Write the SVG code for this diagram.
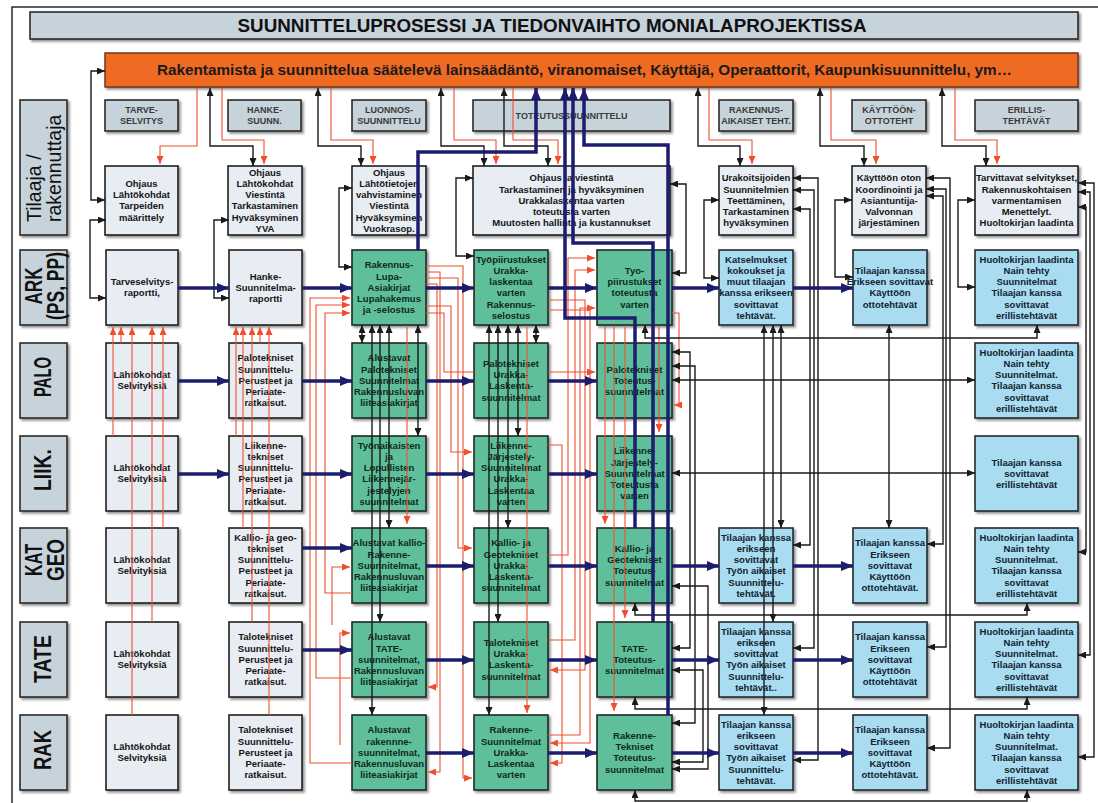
<svg xmlns="http://www.w3.org/2000/svg" width="1098" height="803" viewBox="0 0 1098 803">
<defs>
<filter id="sh" x="-10%" y="-10%" width="130%" height="130%">
<feDropShadow dx="2" dy="2" stdDeviation="1" flood-color="#3a3a3a" flood-opacity="0.55"/>
</filter>
<marker id="an" viewBox="0 0 12 10" refX="12" refY="5" markerWidth="12" markerHeight="10" markerUnits="userSpaceOnUse" orient="auto-start-reverse"><path d="M0,0 L12,5 L0,10 z" fill="#1d1d6f"/></marker>
<marker id="ab" viewBox="0 0 8 7" refX="8" refY="3.5" markerWidth="8" markerHeight="7" markerUnits="userSpaceOnUse" orient="auto-start-reverse"><path d="M0,0 L8,3.5 L0,7 z" fill="#1a1a1a"/></marker>
<marker id="ar" viewBox="0 0 8 7" refX="8" refY="3.5" markerWidth="8" markerHeight="7" markerUnits="userSpaceOnUse" orient="auto-start-reverse"><path d="M0,0 L8,3.5 L0,7 z" fill="#ef4f2e"/></marker>
</defs>
<style>
.frame{fill:none;stroke:#2a2a2a;stroke-width:1.5}
.hdr{fill:#c7d3db;stroke:#2b2b2b;stroke-width:1.6}
.lt{fill:#e7edf2;stroke:#1e1e1e;stroke-width:1.6}
.gr{fill:#5fbf9b;stroke:#1e2a24;stroke-width:1.6}
.bl{fill:#a9dbf1;stroke:#1e2a30;stroke-width:1.6}
.or{fill:#ef6a22;stroke:#7a3210;stroke-width:1.5}
text{font-family:"Liberation Sans",Arial,sans-serif}
.t{font-weight:bold;font-size:9.5px;fill:#151515;text-anchor:middle}
.tg{fill:#0f2a20}
.tb{fill:#10242e}
.ph{font-weight:bold;font-size:9px;fill:#3a3a3a;text-anchor:middle}
.rh{font-weight:bold;font-size:23px;fill:#111;text-anchor:middle}
.rn{font-weight:normal;font-size:19.5px;text-anchor:start}
.nv{fill:none;stroke:#1d1d6f;stroke-width:3.5;marker-end:url(#an)}
.bk{fill:none;stroke:#1a1a1a;stroke-width:1.4;marker-end:url(#ab)}
.b2{marker-start:url(#ab)}
.rd{fill:none;stroke:#ef4f2e;stroke-width:1.1;marker-end:url(#ar)}
.rn0{marker-end:none}
</style>

<rect class="frame" x="12" y="7" width="1090" height="800"/>

<!-- title and the regulating bar -->
<g id="title">
<rect class="hdr" x="30" y="12" width="1048" height="27" filter="url(#sh)"/>
<text x="552" y="32" font-size="19" font-weight="bold" fill="#111" text-anchor="middle" textLength="629" lengthAdjust="spacingAndGlyphs">SUUNNITTELUPROSESSI JA TIEDONVAIHTO MONIALAPROJEKTISSA</text>
</g>
<g id="regulation">
<rect class="or" x="105" y="53" width="973" height="34" filter="url(#sh)"/>
<text x="584.5" y="75" font-size="14" font-weight="bold" fill="#1a1a1a" text-anchor="middle" textLength="855" lengthAdjust="spacingAndGlyphs">Rakentamista ja suunnittelua säätelevä lainsäädäntö, viranomaiset, Käyttäjä, Operaattorit, Kaupunkisuunnittelu, ym…</text>
</g>

<!-- phase headers -->
<g id="ph-tarve"><rect class="hdr" x="105" y="100" width="73" height="31" filter="url(#sh)"/><text class="ph" x="141.5" y="113">TARVE-<tspan x="141.5" dy="11">SELVITYS</tspan></text></g>
<g id="ph-hanke"><rect class="hdr" x="228" y="100" width="73" height="31" filter="url(#sh)"/><text class="ph" x="264.5" y="113">HANKE-<tspan x="264.5" dy="11">SUUNN.</tspan></text></g>
<g id="ph-luonnos"><rect class="hdr" x="352" y="100" width="74" height="31" filter="url(#sh)"/><text class="ph" x="389" y="113">LUONNOS-<tspan x="389" dy="11">SUUNNITTELU</tspan></text></g>
<g id="ph-toteutus"><rect class="hdr" x="473" y="100" width="197" height="31" filter="url(#sh)"/><text class="ph" x="571.5" y="119">TOTEUTUSSUUNNITTELU</text></g>
<g id="ph-rakennus"><rect class="hdr" x="719" y="100" width="74" height="31" filter="url(#sh)"/><text class="ph" x="756" y="113">RAKENNUS-<tspan x="756" dy="11">AIKAISET TEHT.</tspan></text></g>
<g id="ph-kaytto"><rect class="hdr" x="852" y="100" width="74" height="31" filter="url(#sh)"/><text class="ph" x="889" y="113">KÄYTTÖÖN-<tspan x="889" dy="11">OTTOTEHT</tspan></text></g>
<g id="ph-erillis"><rect class="hdr" x="975" y="100" width="103" height="31" filter="url(#sh)"/><text class="ph" x="1026.5" y="113">ERILLIS-<tspan x="1026.5" dy="11">TEHTÄVÄT</tspan></text></g>

<!-- row headers -->
<g id="rh-tilaaja"><rect class="hdr" x="20" y="100" width="47" height="135" filter="url(#sh)"/><text class="rh rn" transform="translate(43.5,222) rotate(-90)"><tspan x="0" y="-3">Tilaaja /</tspan><tspan x="0" y="17">rakennuttaja</tspan></text></g>
<g id="rh-ark"><rect class="hdr" x="20" y="250" width="47" height="75" filter="url(#sh)"/><text class="rh" transform="translate(43.5,286) rotate(-90)"><tspan x="0" y="-1.5" textLength="37" lengthAdjust="spacingAndGlyphs">ARK</tspan><tspan x="0" y="20.5" textLength="68" lengthAdjust="spacingAndGlyphs">(PS, PP)</tspan></text></g>
<g id="rh-palo"><rect class="hdr" x="20" y="343" width="47" height="75" filter="url(#sh)"/><text class="rh" transform="translate(43.5,377) rotate(-90)" x="0" y="7" textLength="40" lengthAdjust="spacingAndGlyphs">PALO</text></g>
<g id="rh-liik"><rect class="hdr" x="20" y="436" width="47" height="75" filter="url(#sh)"/><text class="rh" transform="translate(43.5,470) rotate(-90)" x="0" y="7" textLength="42" lengthAdjust="spacingAndGlyphs">LIIK.</text></g>
<g id="rh-katgeo"><rect class="hdr" x="20" y="528" width="47" height="75" filter="url(#sh)"/><text class="rh" transform="translate(43.5,560) rotate(-90)"><tspan x="0" y="-1.5" textLength="32" lengthAdjust="spacingAndGlyphs">KAT</tspan><tspan x="0" y="20.5" textLength="42" lengthAdjust="spacingAndGlyphs">GEO</tspan></text></g>
<g id="rh-tate"><rect class="hdr" x="20" y="622" width="47" height="75" filter="url(#sh)"/><text class="rh" transform="translate(43.5,659) rotate(-90)" x="0" y="7" textLength="48" lengthAdjust="spacingAndGlyphs">TATE</text></g>
<g id="rh-rak"><rect class="hdr" x="20" y="715" width="47" height="75" filter="url(#sh)"/><text class="rh" transform="translate(43.5,750) rotate(-90)" x="0" y="7" textLength="40" lengthAdjust="spacingAndGlyphs">RAK</text></g>

<!-- client row -->
<g id="til-c1"><rect class="lt" x="105" y="166" width="73" height="69" filter="url(#sh)"/><text class="t" x="141.5" y="187">Ohjaus<tspan x="141.5" dy="11.2">Lähtökohdat</tspan><tspan x="141.5" dy="11.2">Tarpeiden</tspan><tspan x="141.5" dy="11.2">määrittely</tspan></text></g>
<g id="til-c2"><rect class="lt" x="228" y="166" width="74" height="69" filter="url(#sh)"/><text class="t" x="265" y="175.8">Ohjaus<tspan x="265" dy="11.2">Lähtökohdat</tspan><tspan x="265" dy="11.2">Viestintä</tspan><tspan x="265" dy="11.2">Tarkastaminen</tspan><tspan x="265" dy="11.2">Hyväksyminen</tspan><tspan x="265" dy="11.2">YVA</tspan></text></g>
<g id="til-c3"><rect class="lt" x="352" y="166" width="74" height="69" filter="url(#sh)"/><text class="t" x="389" y="175.8">Ohjaus<tspan x="389" dy="11.2">Lähtötietojen</tspan><tspan x="389" dy="11.2">vahvistaminen</tspan><tspan x="389" dy="11.2">Viestintä</tspan><tspan x="389" dy="11.2">Hyväksyminen</tspan><tspan x="389" dy="11.2">Vuokrasop.</tspan></text></g>
<g id="til-c4"><rect class="lt" x="473" y="166" width="197" height="69" filter="url(#sh)"/><text class="t" x="571.5" y="181.4">Ohjaus ja viestintä<tspan x="571.5" dy="11.2">Tarkastaminen ja hyväksyminen</tspan><tspan x="571.5" dy="11.2">Urakkalaskentaa varten</tspan><tspan x="571.5" dy="11.2">toteutusta varten</tspan><tspan x="571.5" dy="11.2">Muutosten hallinta ja kustannukset</tspan></text></g>
<g id="til-c6"><rect class="lt" x="719" y="166" width="74" height="69" filter="url(#sh)"/><text class="t" x="756" y="181.4">Urakoitsijoiden<tspan x="756" dy="11.2">Suunnitelmien</tspan><tspan x="756" dy="11.2">Teettäminen,</tspan><tspan x="756" dy="11.2">Tarkastaminen</tspan><tspan x="756" dy="11.2">hyväksyminen</tspan></text></g>
<g id="til-c7"><rect class="lt" x="852" y="166" width="74" height="69" filter="url(#sh)"/><text class="t" x="889" y="181.4">Käyttöön oton<tspan x="889" dy="11.2">Koordinointi ja</tspan><tspan x="889" dy="11.2">Asiantuntija-</tspan><tspan x="889" dy="11.2">Valvonnan</tspan><tspan x="889" dy="11.2">järjestäminen</tspan></text></g>
<g id="til-c8"><rect class="lt" x="975" y="166" width="103" height="69" filter="url(#sh)"/><text class="t" x="1026.5" y="181.4">Tarvittavat selvitykset,<tspan x="1026.5" dy="11.2">Rakennuskohtaisen</tspan><tspan x="1026.5" dy="11.2">varmentamisen</tspan><tspan x="1026.5" dy="11.2">Menettelyt.</tspan><tspan x="1026.5" dy="11.2">Huoltokirjan laadinta</tspan></text></g>

<!-- ARK row -->
<g id="ark-c1"><rect class="lt" x="106" y="250" width="72" height="75" filter="url(#sh)"/><text class="t" x="142" y="285.2">Tarveselvitys-<tspan x="142" dy="11.2">raportti,</tspan></text></g>
<g id="ark-c2"><rect class="lt" x="229" y="250" width="73" height="75" filter="url(#sh)"/><text class="t" x="265.5" y="279.6">Hanke-<tspan x="265.5" dy="11.2">Suunnitelma-</tspan><tspan x="265.5" dy="11.2">raportti</tspan></text></g>
<g id="ark-c3"><rect class="gr" x="352" y="250" width="74" height="75" filter="url(#sh)"/><text class="t tg" x="389" y="268.4">Rakennus-<tspan x="389" dy="11.2">Lupa-</tspan><tspan x="389" dy="11.2">Asiakirjat</tspan><tspan x="389" dy="11.2">Lupahakemus</tspan><tspan x="389" dy="11.2">ja -selostus</tspan></text></g>
<g id="ark-c4"><rect class="gr" x="474" y="250" width="74" height="75" filter="url(#sh)"/><text class="t tg" x="511" y="262.8">Työpiirustukset<tspan x="511" dy="11.2">Urakka-</tspan><tspan x="511" dy="11.2">laskentaa</tspan><tspan x="511" dy="11.2">varten</tspan><tspan x="511" dy="11.2">Rakennus-</tspan><tspan x="511" dy="11.2">selostus</tspan></text></g>
<g id="ark-c5"><rect class="gr" x="597" y="250" width="75" height="75" filter="url(#sh)"/><text class="t tg" x="634.5" y="274">Tyo-<tspan x="634.5" dy="11.2">piirustukset</tspan><tspan x="634.5" dy="11.2">toteutusta</tspan><tspan x="634.5" dy="11.2">varten</tspan></text></g>
<g id="ark-c6"><rect class="bl" x="719" y="250" width="74" height="75" filter="url(#sh)"/><text class="t tb" x="756" y="262.8">Katselmukset<tspan x="756" dy="11.2">kokoukset ja</tspan><tspan x="756" dy="11.2">muut tilaajan</tspan><tspan x="756" dy="11.2">kanssa erikseen</tspan><tspan x="756" dy="11.2">sovittavat</tspan><tspan x="756" dy="11.2">tehtävät.</tspan></text></g>
<g id="ark-c7"><rect class="bl" x="853" y="250" width="74" height="75" filter="url(#sh)"/><text class="t tb" x="890" y="274">Tilaajan kanssa<tspan x="890" dy="11.2">Erikseen sovittavat</tspan><tspan x="890" dy="11.2">Käyttöön</tspan><tspan x="890" dy="11.2">ottotehtävät</tspan></text></g>
<g id="ark-c8"><rect class="bl" x="975" y="250" width="103" height="75" filter="url(#sh)"/><text class="t tb" x="1026.5" y="262.8">Huoltokirjan laadinta<tspan x="1026.5" dy="11.2">Nain tehty</tspan><tspan x="1026.5" dy="11.2">Suunnitelmat</tspan><tspan x="1026.5" dy="11.2">Tilaajan kanssa</tspan><tspan x="1026.5" dy="11.2">sovittavat</tspan><tspan x="1026.5" dy="11.2">erillistehtävät</tspan></text></g>

<!-- PALO row -->
<g id="palo-c1"><rect class="lt" x="106" y="343" width="72" height="75" filter="url(#sh)"/><text class="t" x="142" y="378.2">Lähtökohdat<tspan x="142" dy="11.2">Selvityksiä</tspan></text></g>
<g id="palo-c2"><rect class="lt" x="229" y="343" width="73" height="75" filter="url(#sh)"/><text class="t" x="265.5" y="361.4">Palotekniset<tspan x="265.5" dy="11.2">Suunnittelu-</tspan><tspan x="265.5" dy="11.2">Perusteet ja</tspan><tspan x="265.5" dy="11.2">Periaate-</tspan><tspan x="265.5" dy="11.2">ratkaisut.</tspan></text></g>
<g id="palo-c3"><rect class="gr" x="352" y="343" width="74" height="75" filter="url(#sh)"/><text class="t tg" x="389" y="361.4">Alustavat<tspan x="389" dy="11.2">Palotekniset</tspan><tspan x="389" dy="11.2">Suunnitelmat</tspan><tspan x="389" dy="11.2">Rakennusluvan</tspan><tspan x="389" dy="11.2">liiteasiakirjat</tspan></text></g>
<g id="palo-c4"><rect class="gr" x="474" y="343" width="74" height="75" filter="url(#sh)"/><text class="t tg" x="511" y="367">Palotekniset<tspan x="511" dy="11.2">Urakka-</tspan><tspan x="511" dy="11.2">Laskenta-</tspan><tspan x="511" dy="11.2">suunnitelmat</tspan></text></g>
<g id="palo-c5"><rect class="gr" x="597" y="343" width="75" height="75" filter="url(#sh)"/><text class="t tg" x="634.5" y="372.6">Palotekniset<tspan x="634.5" dy="11.2">Toteutus-</tspan><tspan x="634.5" dy="11.2">suunnitelmat</tspan></text></g>
<g id="palo-c8"><rect class="bl" x="975" y="343" width="103" height="75" filter="url(#sh)"/><text class="t tb" x="1026.5" y="355.8">Huoltokirjan laadinta<tspan x="1026.5" dy="11.2">Nain tehty</tspan><tspan x="1026.5" dy="11.2">Suunnitelmat.</tspan><tspan x="1026.5" dy="11.2">Tilaajan kanssa</tspan><tspan x="1026.5" dy="11.2">sovittavat</tspan><tspan x="1026.5" dy="11.2">erillistehtävät</tspan></text></g>

<!-- LIIK row -->
<g id="liik-c1"><rect class="lt" x="106" y="436" width="72" height="75" filter="url(#sh)"/><text class="t" x="142" y="471.2">Lähtökohdat<tspan x="142" dy="11.2">Selvityksiä</tspan></text></g>
<g id="liik-c2"><rect class="lt" x="229" y="436" width="73" height="75" filter="url(#sh)"/><text class="t" x="265.5" y="448.8">Liikenne-<tspan x="265.5" dy="11.2">tekniset</tspan><tspan x="265.5" dy="11.2">Suunnittelu-</tspan><tspan x="265.5" dy="11.2">Perusteet ja</tspan><tspan x="265.5" dy="11.2">Periaate-</tspan><tspan x="265.5" dy="11.2">ratkaisut.</tspan></text></g>
<g id="liik-c3"><rect class="gr" x="352" y="436" width="74" height="75" filter="url(#sh)"/><text class="t tg" x="389" y="448.8">Työnaikaisten<tspan x="389" dy="11.2">ja</tspan><tspan x="389" dy="11.2">Lopullisten</tspan><tspan x="389" dy="11.2">Liikennejär-</tspan><tspan x="389" dy="11.2">jestelyjen</tspan><tspan x="389" dy="11.2">suunnitelmat</tspan></text></g>
<g id="liik-c4"><rect class="gr" x="474" y="436" width="74" height="75" filter="url(#sh)"/><text class="t tg" x="511" y="448.8">Liikenne-<tspan x="511" dy="11.2">Järjestely-</tspan><tspan x="511" dy="11.2">Suunnitelmat</tspan><tspan x="511" dy="11.2">Urakka-</tspan><tspan x="511" dy="11.2">Laskentaa</tspan><tspan x="511" dy="11.2">varten</tspan></text></g>
<g id="liik-c5"><rect class="gr" x="597" y="436" width="75" height="75" filter="url(#sh)"/><text class="t tg" x="634.5" y="454.4">Liikenne-<tspan x="634.5" dy="11.2">Järjestely-</tspan><tspan x="634.5" dy="11.2">Suunnitelmat</tspan><tspan x="634.5" dy="11.2">Toteutusta</tspan><tspan x="634.5" dy="11.2">varten</tspan></text></g>
<g id="liik-c8"><rect class="bl" x="975" y="436" width="103" height="75" filter="url(#sh)"/><text class="t tb" x="1026.5" y="465.6">Tilaajan kanssa<tspan x="1026.5" dy="11.2">sovittavat</tspan><tspan x="1026.5" dy="11.2">erillistehtävät</tspan></text></g>

<!-- KAT GEO row -->
<g id="kat-c1"><rect class="lt" x="106" y="528" width="72" height="75" filter="url(#sh)"/><text class="t" x="142" y="563.2">Lähtökohdat<tspan x="142" dy="11.2">Selvityksiä</tspan></text></g>
<g id="kat-c2"><rect class="lt" x="229" y="528" width="73" height="75" filter="url(#sh)"/><text class="t" x="265.5" y="540.8">Kallio- ja geo-<tspan x="265.5" dy="11.2">tekniset</tspan><tspan x="265.5" dy="11.2">Suunnittelu-</tspan><tspan x="265.5" dy="11.2">Perusteet ja</tspan><tspan x="265.5" dy="11.2">Periaate-</tspan><tspan x="265.5" dy="11.2">ratkaisut.</tspan></text></g>
<g id="kat-c3"><rect class="gr" x="352" y="528" width="74" height="75" filter="url(#sh)"/><text class="t tg" x="389" y="546.4">Alustavat kallio-<tspan x="389" dy="11.2">Rakenne-</tspan><tspan x="389" dy="11.2">Suunnitelmat,</tspan><tspan x="389" dy="11.2">Rakennusluvan</tspan><tspan x="389" dy="11.2">liiteasiakirjat</tspan></text></g>
<g id="kat-c4"><rect class="gr" x="474" y="528" width="74" height="75" filter="url(#sh)"/><text class="t tg" x="511" y="546.4">Kallio- ja<tspan x="511" dy="11.2">Geotekniset</tspan><tspan x="511" dy="11.2">Urakka-</tspan><tspan x="511" dy="11.2">Laskenta-</tspan><tspan x="511" dy="11.2">suunnitelmat</tspan></text></g>
<g id="kat-c5"><rect class="gr" x="597" y="528" width="75" height="75" filter="url(#sh)"/><text class="t tg" x="634.5" y="552">Kallio- ja<tspan x="634.5" dy="11.2">Geotekniset</tspan><tspan x="634.5" dy="11.2">Toteutus-</tspan><tspan x="634.5" dy="11.2">suunnitelmat</tspan></text></g>
<g id="kat-c6"><rect class="bl" x="719" y="528" width="74" height="75" filter="url(#sh)"/><text class="t tb" x="756" y="540.8">Tilaajan kanssa<tspan x="756" dy="11.2">erikseen</tspan><tspan x="756" dy="11.2">sovittavat</tspan><tspan x="756" dy="11.2">Työn aikaiset</tspan><tspan x="756" dy="11.2">Suunnittelu-</tspan><tspan x="756" dy="11.2">tehtävät.</tspan></text></g>
<g id="kat-c7"><rect class="bl" x="853" y="528" width="74" height="75" filter="url(#sh)"/><text class="t tb" x="890" y="546.4">Tilaajan kanssa<tspan x="890" dy="11.2">Erikseen</tspan><tspan x="890" dy="11.2">sovittavat</tspan><tspan x="890" dy="11.2">Käyttöön</tspan><tspan x="890" dy="11.2">ottotehtävät.</tspan></text></g>
<g id="kat-c8"><rect class="bl" x="975" y="528" width="103" height="75" filter="url(#sh)"/><text class="t tb" x="1026.5" y="540.8">Huoltokirjan laadinta<tspan x="1026.5" dy="11.2">Nain tehty</tspan><tspan x="1026.5" dy="11.2">Suunnitelmat.</tspan><tspan x="1026.5" dy="11.2">Tilaajan kanssa</tspan><tspan x="1026.5" dy="11.2">sovittavat</tspan><tspan x="1026.5" dy="11.2">erillistehtävät</tspan></text></g>

<!-- TATE row -->
<g id="tate-c1"><rect class="lt" x="106" y="622" width="72" height="75" filter="url(#sh)"/><text class="t" x="142" y="657.2">Lähtökohdat<tspan x="142" dy="11.2">Selvityksiä</tspan></text></g>
<g id="tate-c2"><rect class="lt" x="229" y="622" width="73" height="75" filter="url(#sh)"/><text class="t" x="265.5" y="640.4">Talotekniset<tspan x="265.5" dy="11.2">Suunnittelu-</tspan><tspan x="265.5" dy="11.2">Perusteet ja</tspan><tspan x="265.5" dy="11.2">Periaate-</tspan><tspan x="265.5" dy="11.2">ratkaisut.</tspan></text></g>
<g id="tate-c3"><rect class="gr" x="352" y="622" width="74" height="75" filter="url(#sh)"/><text class="t tg" x="389" y="640.4">Alustavat<tspan x="389" dy="11.2">TATE-</tspan><tspan x="389" dy="11.2">suunnitelmat,</tspan><tspan x="389" dy="11.2">Rakennusluvan</tspan><tspan x="389" dy="11.2">liiteasiakirjat</tspan></text></g>
<g id="tate-c4"><rect class="gr" x="474" y="622" width="74" height="75" filter="url(#sh)"/><text class="t tg" x="511" y="646">Talotekniset<tspan x="511" dy="11.2">Urakka-</tspan><tspan x="511" dy="11.2">Laskenta-</tspan><tspan x="511" dy="11.2">suunnitelmat</tspan></text></g>
<g id="tate-c5"><rect class="gr" x="597" y="622" width="75" height="75" filter="url(#sh)"/><text class="t tg" x="634.5" y="651.6">TATE-<tspan x="634.5" dy="11.2">Toteutus-</tspan><tspan x="634.5" dy="11.2">suunnitelmat</tspan></text></g>
<g id="tate-c6"><rect class="bl" x="719" y="622" width="74" height="75" filter="url(#sh)"/><text class="t tb" x="756" y="634.8">Tilaajan kanssa<tspan x="756" dy="11.2">erikseen</tspan><tspan x="756" dy="11.2">sovittavat</tspan><tspan x="756" dy="11.2">Työn aikaiset</tspan><tspan x="756" dy="11.2">Suunnittelu-</tspan><tspan x="756" dy="11.2">tehtävät..</tspan></text></g>
<g id="tate-c7"><rect class="bl" x="853" y="622" width="74" height="75" filter="url(#sh)"/><text class="t tb" x="890" y="640.4">Tilaajan kanssa<tspan x="890" dy="11.2">Erikseen</tspan><tspan x="890" dy="11.2">sovittavat</tspan><tspan x="890" dy="11.2">Käyttöön</tspan><tspan x="890" dy="11.2">ottotehtävät</tspan></text></g>
<g id="tate-c8"><rect class="bl" x="975" y="622" width="103" height="75" filter="url(#sh)"/><text class="t tb" x="1026.5" y="634.8">Huoltokirjan laadinta<tspan x="1026.5" dy="11.2">Nain tehty</tspan><tspan x="1026.5" dy="11.2">Suunnitelmat.</tspan><tspan x="1026.5" dy="11.2">Tilaajan kanssa</tspan><tspan x="1026.5" dy="11.2">sovittavat</tspan><tspan x="1026.5" dy="11.2">erillistehtävät</tspan></text></g>

<!-- RAK row -->
<g id="rak-c1"><rect class="lt" x="106" y="715" width="72" height="75" filter="url(#sh)"/><text class="t" x="142" y="750.2">Lähtökohdat<tspan x="142" dy="11.2">Selvityksiä</tspan></text></g>
<g id="rak-c2"><rect class="lt" x="229" y="715" width="73" height="75" filter="url(#sh)"/><text class="t" x="265.5" y="733.4">Talotekniset<tspan x="265.5" dy="11.2">Suunnittelu-</tspan><tspan x="265.5" dy="11.2">Perusteet ja</tspan><tspan x="265.5" dy="11.2">Periaate-</tspan><tspan x="265.5" dy="11.2">ratkaisut.</tspan></text></g>
<g id="rak-c3"><rect class="gr" x="352" y="715" width="74" height="75" filter="url(#sh)"/><text class="t tg" x="389" y="733.4">Alustavat<tspan x="389" dy="11.2">rakennne-</tspan><tspan x="389" dy="11.2">suunnitelmat,</tspan><tspan x="389" dy="11.2">Rakennusluvan</tspan><tspan x="389" dy="11.2">liiteasiakirjat</tspan></text></g>
<g id="rak-c4"><rect class="gr" x="474" y="715" width="74" height="75" filter="url(#sh)"/><text class="t tg" x="511" y="733.4">Rakenne-<tspan x="511" dy="11.2">Suunnitelmat</tspan><tspan x="511" dy="11.2">Urakka-</tspan><tspan x="511" dy="11.2">Laskentaa</tspan><tspan x="511" dy="11.2">varten</tspan></text></g>
<g id="rak-c5"><rect class="gr" x="597" y="715" width="75" height="75" filter="url(#sh)"/><text class="t tg" x="634.5" y="739">Rakenne-<tspan x="634.5" dy="11.2">Tekniset</tspan><tspan x="634.5" dy="11.2">Toteutus-</tspan><tspan x="634.5" dy="11.2">suunnitelmat</tspan></text></g>
<g id="rak-c6"><rect class="bl" x="719" y="715" width="74" height="75" filter="url(#sh)"/><text class="t tb" x="756" y="727.8">Tilaajan kanssa<tspan x="756" dy="11.2">erikseen</tspan><tspan x="756" dy="11.2">sovittavat</tspan><tspan x="756" dy="11.2">Työn aikaiset</tspan><tspan x="756" dy="11.2">Suunnittelu-</tspan><tspan x="756" dy="11.2">tehtävät.</tspan></text></g>
<g id="rak-c7"><rect class="bl" x="853" y="715" width="74" height="75" filter="url(#sh)"/><text class="t tb" x="890" y="733.4">Tilaajan kanssa<tspan x="890" dy="11.2">Erikseen</tspan><tspan x="890" dy="11.2">sovittavat</tspan><tspan x="890" dy="11.2">Käyttöön</tspan><tspan x="890" dy="11.2">ottotehtävät.</tspan></text></g>
<g id="rak-c8"><rect class="bl" x="975" y="715" width="103" height="75" filter="url(#sh)"/><text class="t tb" x="1026.5" y="727.8">Huoltokirjan laadinta<tspan x="1026.5" dy="11.2">Nain tehty</tspan><tspan x="1026.5" dy="11.2">Suunnitelmat.</tspan><tspan x="1026.5" dy="11.2">Tilaajan kanssa</tspan><tspan x="1026.5" dy="11.2">sovittavat</tspan><tspan x="1026.5" dy="11.2">erillistehtävät</tspan></text></g>

<g id="connectors">
<!-- red information-flow lines -->
<g id="red">
<path class="rd" d="M197,88 V146 H160 V164"/>
<path class="rd" d="M222,88 V140 H264 V164"/>
<path class="rd" d="M331,88 V140 H373 V164"/>
<path class="rd" d="M454,88 V140 H496 V164"/>
<path class="rd" d="M513,88 V140 H558 V164"/>
<path class="rd" d="M709,88 V140 H752 V164"/>
<path class="rd" d="M831,88 V140 H876 V164"/>
<path class="rd" d="M955,88 V140 H997 V164"/>
<path class="rd" d="M113,436 V327"/>
<path class="rd" d="M121,343 V327"/>
<path class="rd" d="M132,715 V327"/>
<path class="rd" d="M152,622 V327"/>
<path class="rd" d="M163,528 V327"/>
<path class="rd" d="M236,436 V327"/>
<path class="rd" d="M243,528 V327"/>
<path class="rd" d="M252,622 V327"/>
<path class="rd" d="M260,343 V327"/>
<path class="rd" d="M269,715 V327"/>
<path class="rd" d="M352,763 H310 V298 H350"/>
<path class="rd" d="M352,678 H316 V305 H350"/>
<path class="rd" d="M352,593 H325 V313 H350"/>
<path class="rd" d="M332,625 V567 H350"/>
<path class="rd" d="M340,745 V633 H350"/>
<path class="rd" d="M426,266 H463 V778 H472"/>
<path class="rd" d="M426,272 H440 V772 H428"/>
<path class="rd" d="M426,278 H458 V548 H472"/>
<path class="rd" d="M426,284 H437 V687 H428"/>
<path class="rd" d="M426,306 H451 V452 H472"/>
<path class="rd rn0" d="M426,313 H444 V372 H474"/>
<path class="rd" d="M548,372 H595"/>
<path class="rd" d="M407,327 V524"/>
<path class="rd" d="M527,327 V713"/>
<path class="rd" d="M548,555 H568 V258 H595"/>
<path class="rd" d="M548,640 H575 V270 H595"/>
<path class="rd" d="M548,735 H580 V308 H595"/>
<path class="rd" d="M548,300 H585 V670 H550"/>
<path class="rd" d="M548,310 H590 V743 H550"/>
<path class="rd" d="M548,445 H562 V763 H550"/>
<path class="rd" d="M605,327 V524"/>
<path class="rd" d="M614,327 V711"/>
<path class="rd" d="M625,327 V618"/>
<path class="rd" d="M659,327 V432"/>
<path class="rd" d="M672,313 H679 V405 H674"/>
</g>
<!-- black coordination lines -->
<g id="black">
<path class="bk b2" d="M105,200 H91 V71 H105"/>
<path class="bk b2" d="M106,220 H90 V298 H106"/>
<path class="bk b2" d="M229,220 H214 V298 H229"/>
<path class="bk b2" d="M352,188 H339 V267 H352"/>
<path class="bk b2" d="M473,178 H456 V256 H474"/>
<path class="bk b2" d="M670,184 H686 V273 H672"/>
<path class="bk b2" d="M719,200 H704 V278 H719"/>
<path class="bk b2" d="M852,200 H835 V277 H853"/>
<path class="bk b2" d="M975,200 H958 V287 H975"/>
<path class="bk b2" d="M210,88 V146 H253 V166"/>
<path class="bk b2" d="M318,88 V146 H361 V166"/>
<path class="bk b2" d="M441,88 V146 H484 V166"/>
<path class="bk b2" d="M504,88 V146 H548 V166"/>
<path class="bk b2" d="M698,88 V146 H740 V166"/>
<path class="bk b2" d="M820,88 V146 H864 V166"/>
<path class="bk b2" d="M942,88 V146 H986 V166"/>
<path class="bk b2" d="M793,209 H810 V545 H793"/>
<path class="bk b2" d="M793,190 H814 V648 H793"/>
<path class="bk b2" d="M793,178 H818 V760 H793"/>
<path class="bk b2" d="M926,196 H943 V544 H927"/>
<path class="bk b2" d="M926,189 H946 V647 H927"/>
<path class="bk b2" d="M926,178 H950 V748 H927"/>
<path class="bk b2" d="M1078,207 H1086 V552 H1078"/>
<path class="bk b2" d="M1078,192 H1090 V655 H1078"/>
<path class="bk b2" d="M1078,183 H1094 V757 H1078"/>
<path class="bk b2" d="M764,325 V715"/>
<path class="bk b2" d="M773,325 V622"/>
<path class="bk b2" d="M781,325 V528"/>
<path class="bk b2" d="M889,325 V528"/>
<path class="bk b2" d="M362,325 V343"/>
<path class="bk b2" d="M372,325 V715"/>
<path class="bk b2" d="M380,325 V622"/>
<path class="bk b2" d="M389,325 V528"/>
<path class="bk b2" d="M418,325 V436"/>
<path class="bk b2" d="M536,325 V343"/>
<path class="bk b2" d="M489,325 V715"/>
<path class="bk b2" d="M498,325 V622"/>
<path class="bk b2" d="M508,325 V528"/>
<path class="bk b2" d="M518,325 V436"/>
<path class="bk b2" d="M645,325 V338 H1037 V325"/>
<path class="bk b2" d="M672,380 H975"/>
<path class="bk b2" d="M672,473 H975"/>
<path class="bk b2" d="M635,603 V615 H1027 V603"/>
<path class="bk b2" d="M635,697 V709 H1027 V697"/>
<path class="bk b2" d="M635,790 V801 H1027 V790"/>
<path class="bk b2" d="M672,352 H690 V648 H672"/>
<path class="bk b2" d="M672,366 H695 V723 H672"/>
<path class="bk b2" d="M672,586 H708 V769 H672"/>
<path class="bk b2" d="M672,670 H703 V762 H672"/>
</g>
<!-- main deliverable flow -->
<g id="navy">
<path class="nv" d="M178,288 H229"/>
<path class="nv" d="M302,288 H352"/>
<path class="nv" d="M426,288 H474"/>
<path class="nv" d="M548,288 H597"/>
<path class="nv" d="M672,288 H719"/>
<path class="nv" d="M793,288 H853"/>
<path class="nv" d="M178,381 H229"/>
<path class="nv" d="M302,381 H352"/>
<path class="nv" d="M426,381 H474"/>
<path class="nv" d="M548,381 H597"/>
<path class="nv" d="M178,474 H229"/>
<path class="nv" d="M302,474 H352"/>
<path class="nv" d="M426,474 H474"/>
<path class="nv" d="M548,474 H597"/>
<path class="nv" d="M302,548 H352"/>
<path class="nv" d="M426,566 H474"/>
<path class="nv" d="M548,566 H597"/>
<path class="nv" d="M672,566 H719"/>
<path class="nv" d="M793,566 H853"/>
<path class="nv" d="M302,650 H352"/>
<path class="nv" d="M426,660 H474"/>
<path class="nv" d="M548,660 H597"/>
<path class="nv" d="M672,660 H719"/>
<path class="nv" d="M793,660 H853"/>
<path class="nv" d="M426,753 H474"/>
<path class="nv" d="M548,753 H597"/>
<path class="nv" d="M672,753 H719"/>
<path class="nv" d="M793,753 H853"/>
<path class="nv" d="M418,250 V152 H536 V88"/>
<path class="nv" d="M635,528 V318 H565 V88"/>
<path class="nv" d="M653,622 V243 H573 V88"/>
<path class="nv" d="M668,715 V145 H584 V88"/>
</g>
</g>
</svg>
